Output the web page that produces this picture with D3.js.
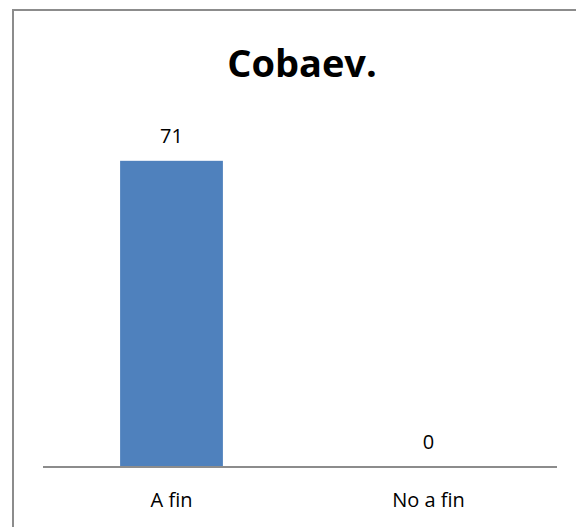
<!DOCTYPE html>
<html><head><meta charset="utf-8">
<script src="https://cdn.jsdelivr.net/npm/d3@7"></script>
<style>body{margin:0;background:#fff}svg{display:block}text{font-variant-ligatures:none;font-feature-settings:"liga" 0}</style>
</head><body>
<script>
const categories = ["A fin", "No a fin"];
const values = [71, 0];
const title = "Cobaev.";

const W = 576, H = 527;
const svg = d3.select("body").append("svg").attr("width", W).attr("height", H);
svg.append("rect").attr("x", 13).attr("y", 10).attr("width", 600).attr("height", 600)
  .attr("fill", "#fff").attr("stroke", "#8c8c8c").attr("stroke-width", 2);

const x = d3.scaleBand().domain(categories).range([43, 557]).paddingInner(0.6).paddingOuter(0.3);
const y = d3.scaleLinear().domain([0, 80]).range([467, 122]);
const font = "'Open Sans', sans-serif";

svg.append("text").attr("x", 302).attr("y", 77).attr("text-anchor", "middle")
  .attr("font-family", font).attr("font-weight", "bold").attr("font-size", 38).attr("fill", "#000").text(title);

svg.selectAll("rect.bar").data(values).enter().append("rect").attr("class", "bar")
  .attr("x", (d, i) => x(categories[i])).attr("width", x.bandwidth())
  .attr("y", d => y(d)).attr("height", d => y(0) - y(d)).attr("fill", "#4F81BD");

svg.selectAll("text.val").data(values).enter().append("text").attr("class", "val")
  .attr("x", (d, i) => x(categories[i]) + x.bandwidth() / 2).attr("y", d => y(d) - 18)
  .attr("text-anchor", "middle").attr("font-family", font).attr("font-size", 20).attr("fill", "#000").text(d => d);

const ax = d3.axisBottom(x).tickSize(0).tickPadding(26);
const g = svg.append("g").attr("transform", "translate(0,467)").call(ax);
g.select(".domain").attr("stroke", "#8c8c8c").attr("stroke-width", 2).attr("d", "M43,0H557");
g.selectAll("text").attr("font-family", font).attr("font-size", 20).attr("fill", "#000");
</script>
</body></html>
